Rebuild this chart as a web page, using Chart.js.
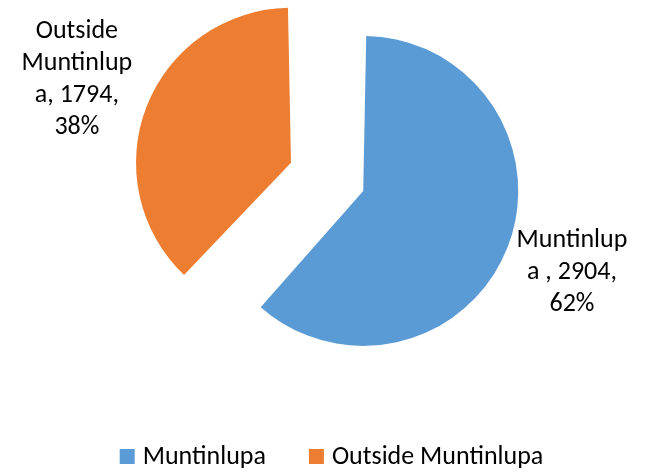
<!DOCTYPE html>
<html>
<head>
<meta charset="utf-8">
<script src="https://cdn.jsdelivr.net/npm/chart.js@4"></script>
<style>
    html, body { margin: 0; padding: 0; background: #fff; }
    #wrap { width: 657px; height: 472px; }
</style>
</head>
<body>
<div id="wrap"><canvas id="pie"></canvas></div>
<script>
// Data
const categories = ['Muntinlupa', 'Outside Muntinlupa'];
const values = [2904, 1794];
const sliceColors = ['#5B9BD5', '#ED7D31'];
// Data label text, wrapped the way the original wraps it
const labelLines = [
    ['Muntinlup', 'a , 2904,', '62%'],
    ['Outside', 'Muntinlup', 'a, 1794,', '38%']
];

const FONT = '26px Carlito, Lato, sans-serif';
const LINE_H = 32;

// ArcElement.draw moves an arc by offset/4 and grows its radius by offset/4 * fix
function arcGeometry(arc) {
    const circ = arc.endAngle - arc.startAngle;
    const fix = 1 - Math.sin(Math.min(Math.PI, circ));
    const move = (arc.options.offset || 0) / 4;
    return { move: move, radius: arc.outerRadius + move * fix };
}

// Labels outside each slice, along its middle angle
const sliceLabels = {
    id: 'sliceLabels',
    afterDatasetsDraw(chart) {
        const ctx = chart.ctx;
        const meta = chart.getDatasetMeta(0);
        ctx.save();
        ctx.font = FONT;
        ctx.fillStyle = '#000';
        ctx.textAlign = 'center';
        ctx.textBaseline = 'middle';
        meta.data.forEach((arc, i) => {
            const mid = (arc.startAngle + arc.endAngle) / 2;
            const g = arcGeometry(arc);
            const lines = labelLines[i];
            const w = Math.max(...lines.map(l => ctx.measureText(l).width));
            const h = lines.length * LINE_H;
            const cx = Math.cos(mid), cy = Math.sin(mid);
            const ext = Math.abs(cx) * w / 2 + Math.abs(cy) * h / 2;
            const d = g.move + g.radius + ext;
            const x = arc.x + cx * d;
            const y = arc.y + cy * d;
            lines.forEach((l, k) => ctx.fillText(l, x, y - h / 2 + LINE_H * (k + 0.5)));
        });
        ctx.restore();
    }
};

// Legend at the bottom, drawn like the office one
const bottomLegend = {
    id: 'bottomLegend',
    afterDraw(chart) {
        const ctx = chart.ctx;
        const box = 15, boxGap = 8, itemGap = 43;
        ctx.save();
        ctx.font = FONT;
        const widths = categories.map(c => ctx.measureText(c).width);
        const total = widths.reduce((a, b) => a + b + box + boxGap, 0) + itemGap * (categories.length - 1);
        let x = chart.width / 2 + 3 - total / 2;
        const y = 457;
        categories.forEach((c, i) => {
            ctx.fillStyle = sliceColors[i];
            ctx.fillRect(x, y - 8, box, box);
            ctx.fillStyle = '#000';
            ctx.textAlign = 'left';
            ctx.textBaseline = 'middle';
            ctx.fillText(c, x + box + boxGap, y);
            x += box + boxGap + widths[i] + itemGap;
        });
        ctx.restore();
    }
};

new Chart(document.getElementById('pie'), {
    type: 'pie',
    data: {
        labels: categories,
        datasets: [{
            data: values,
            backgroundColor: sliceColors,
            borderWidth: 0,
            offset: [76, 234],
            hoverOffset: 0,
            radius: 136
        }]
    },
    options: {
        responsive: true,
        maintainAspectRatio: false,
        animation: false,
        layout: { padding: { top: 0, left: 34, right: 0, bottom: 104 } },
        plugins: {
            legend: { display: false },
            tooltip: { enabled: false }
        }
    },
    plugins: [sliceLabels, bottomLegend]
});
</script>
</body>
</html>
